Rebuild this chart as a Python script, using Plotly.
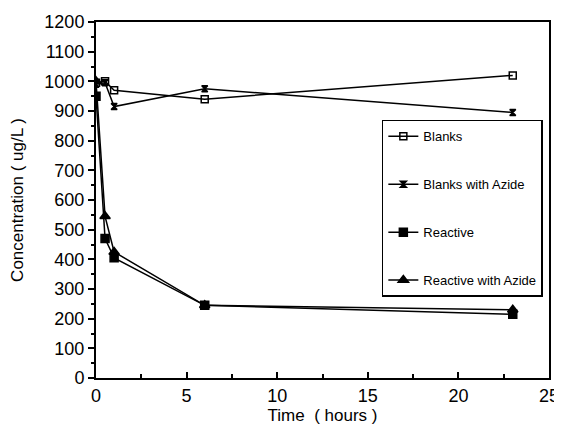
import plotly.graph_objects as go

time_h = [0, 0.5, 1, 6, 23]
blanks = [995, 1000, 970, 940, 1020]
blanks_azide = [990, 995, 915, 975, 895]
reactive = [950, 470, 405, 245, 215]
reactive_azide = [1000, 545, 425, 245, 230]

series = [
    ("Blanks", blanks, "square-open", 7),
    ("Blanks with Azide", blanks_azide, "hourglass", 6),
    ("Reactive", reactive, "square", 8),
    ("Reactive with Azide", reactive_azide, "triangle-up", 9),
]

fig = go.Figure()
for i, (name, vals, sym, sz) in enumerate(series):
    fig.add_trace(go.Scatter(
        x=time_h, y=vals, name=name, mode="lines+markers",
        line=dict(color="black", width=1.5),
        marker=dict(symbol=sym, size=sz, color="black",
                    line=dict(color="black", width=1.5)),
        legendgroup=f"g{i}",
    ))

# page body has an 8px margin, so the figure is sized for the visible area
fig.update_layout(
    width=554, height=421,
    margin=dict(l=88, r=13, t=14, b=51),
    paper_bgcolor="white", plot_bgcolor="white",
    font=dict(family="Liberation Sans, Arial", color="black"),
    showlegend=True,
    legend=dict(
        x=0.631, y=0.725, xanchor="left", yanchor="top",
        bordercolor="black", borderwidth=1.5, bgcolor="white",
        font=dict(size=13), tracegroupgap=28, itemwidth=30,
    ),
    xaxis=dict(
        range=[0, 25], tickvals=[0, 5, 10, 15, 20, 25],
        ticks="inside", ticklen=6, tickwidth=1.5, tickcolor="black",
        minor=dict(dtick=2.5, ticks="inside", ticklen=4, tickcolor="black"),
        showline=True, linecolor="black", linewidth=2, mirror=True,
        showgrid=False, zeroline=False, automargin=False,
        tickfont=dict(size=18),
        title=dict(text="Time  ( hours )", font=dict(size=17), standoff=2),
    ),
    yaxis=dict(
        range=[0, 1200], dtick=100,
        ticks="outside", ticklen=6, tickwidth=1.5, tickcolor="black",
        minor=dict(dtick=50, ticks="outside", ticklen=3, tickcolor="black"),
        showline=True, linecolor="black", linewidth=2, mirror=True,
        showgrid=False, zeroline=False, automargin=False,
        tickfont=dict(size=18),
        title=dict(text="Concentration ( ug/L )", font=dict(size=17), standoff=18),
    ),
)

fig.write_html("out.html")
